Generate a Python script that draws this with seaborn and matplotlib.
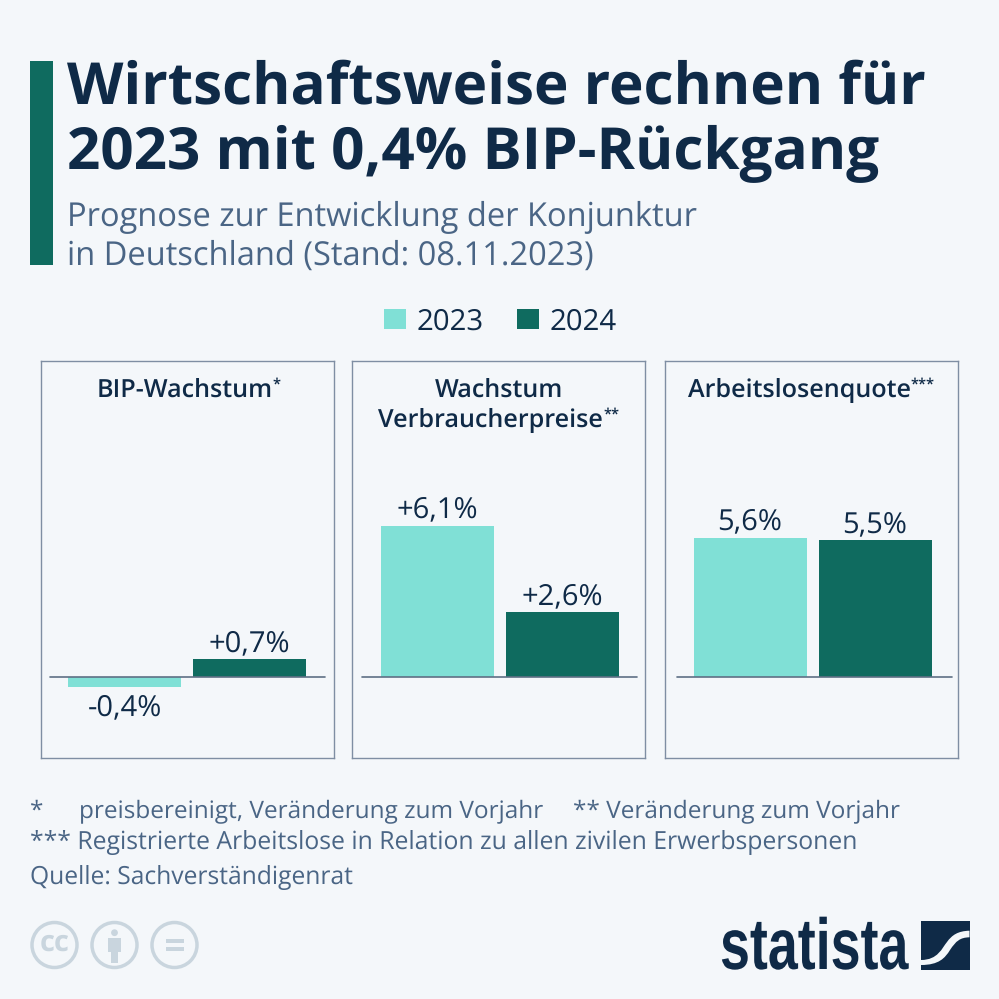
import pandas as pd
import matplotlib
matplotlib.use('Agg')
import matplotlib.pyplot as plt
import matplotlib.patheffects as pe
from matplotlib.patches import Rectangle, Circle, PathPatch
from matplotlib.path import Path
from matplotlib.transforms import Affine2D
import seaborn as sns

# data
years = ['2023', '2024']
panels = ['BIP-Wachstum', 'Wachstum\nVerbraucherpreise', 'Arbeitslosenquote']
stars = ['*', '**', '***']
bip = [-0.4, 0.7]
preise = [6.1, 2.6]
quote = [5.6, 5.5]
bip_labels = ['-0,4%', '+0,7%']
preise_labels = ['+6,1%', '+2,6%']
quote_labels = ['5,6%', '5,5%']

BG = '#f4f7fa'
NAVY = '#0f2a47'
SLATE = '#4a6585'
LIGHT = '#80e0d6'
DARK = '#0f6b5f'
FRAME = '#7f8ea3'
ICON = '#c9d5de'


# squeezes the logo text sideways, there is no condensed font here
class Squeeze(pe.AbstractPathEffect):
    def __init__(self, sx, x0):
        super().__init__()
        self.sx = sx
        self.x0 = x0

    def draw_path(self, renderer, gc, tpath, affine, rgbFace=None):
        a = affine + Affine2D().translate(-self.x0, 0).scale(self.sx, 1).translate(self.x0, 0)
        renderer.draw_path(gc, tpath, a, rgbFace)


sns.set_theme(style='white')
plt.rcParams['font.family'] = ['Open Sans', 'DejaVu Sans']
plt.rcParams['text.hinting'] = 'no_hinting'

W = 999
fig = plt.figure(figsize=(9.99, 9.99), dpi=100, facecolor=BG)

# overlay in pixel coords for text and furniture
bg = fig.add_axes([0, 0, 1, 1])
bg.set_xlim(0, W)
bg.set_ylim(W, 0)
bg.axis('off')

bg.add_patch(Rectangle((30, 61), 23, 204, color=DARK, lw=0))
bg.text(67, 103, 'Wirtschaftsweise rechnen für', fontsize=42, fontweight='bold', color=NAVY)
bg.text(67, 169, '2023 mit 0,4% BIP-Rückgang', fontsize=42, fontweight='bold', color=NAVY)
bg.text(67, 226, 'Prognose zur Entwicklung der Konjunktur', fontsize=23.5, color=SLATE)
bg.text(67, 265, 'in Deutschland (Stand: 08.11.2023)', fontsize=23.5, color=SLATE)

# legend
bg.add_patch(Rectangle((384, 309), 22, 20, color=LIGHT, lw=0))
bg.text(417, 330, years[0], fontsize=21.2, color=NAVY)
bg.add_patch(Rectangle((517, 309), 22, 20, color=DARK, lw=0))
bg.text(550, 330, years[1], fontsize=21.2, color=NAVY)

# panels
lefts = [41, 352, 665]
values = [bip, preise, quote]
labels = [bip_labels, preise_labels, quote_labels]
line_x = [(50, 325), (362, 637), (677, 952)]
bar0_x = [124.5, 437.5, 750]
head_x = [96.5, 378.5, 687.5]
ppu = 24.8
zero = 676.8
fig.canvas.draw()
rend = fig.canvas.get_renderer()
for i in range(3):
    df = pd.DataFrame({'year': years, 'value': values[i]})
    ax = fig.add_axes([lefts[i] / W, (W - 757.5) / W, 292.5 / W, 396.5 / W], facecolor='none')
    sns.barplot(data=df, x='year', y='value', hue='year', hue_order=years,
                palette=[LIGHT, DARK], saturation=1, width=0.904, linewidth=0, edgecolor='none',
                legend=False, ax=ax)
    ax.set_xlim((lefts[i] - bar0_x[i]) / 125, (lefts[i] + 292.5 - bar0_x[i]) / 125)
    ax.set_ylim((zero - 757.5) / ppu, (zero - 361) / ppu)
    ax.set_xlabel('')
    ax.set_ylabel('')
    ax.set_xticks([])
    ax.set_yticks([])
    for s in ax.spines.values():
        s.set_color(FRAME)
        s.set_linewidth(1.0)
    ax.axhline(0, (line_x[i][0] - lefts[i]) / 292.5, (line_x[i][1] - lefts[i]) / 292.5, color='#5f7085', lw=1.2)
    for c, lab, val in zip(ax.containers, labels[i], values[i]):
        ax.bar_label(c, labels=[lab], padding=1 if val > 0 else 5, fontsize=21, color=NAVY)
    head = panels[i].split('\n')
    if len(head) == 2:
        bg.text(lefts[i] + 147, 397, head[0], ha='center', fontsize=18.1, fontweight='semibold', color=NAVY)
    t = bg.text(head_x[i], 397 if len(head) == 1 else 427, head[-1], fontsize=18.1, fontweight='semibold', color=NAVY)
    end = t.get_window_extent(rend).x1
    bg.text(end, (397 if len(head) == 1 else 427) - 8, stars[i], fontsize=10.5, fontweight='semibold', color=NAVY)

# footnotes
bg.text(30, 818, '*', fontsize=17.6, color=SLATE)
bg.text(79, 818, 'preisbereinigt, Veränderung zum Vorjahr', fontsize=17.6, color=SLATE)
bg.text(573, 818, '** Veränderung zum Vorjahr', fontsize=17.6, color=SLATE)
bg.text(30, 849, '*** Registrierte Arbeitslose in Relation zu allen zivilen Erwerbspersonen', fontsize=17.8, color=SLATE)
bg.text(30, 884, 'Quelle: Sachverständigenrat', fontsize=17.7, color=SLATE)

# cc icons
for cx in [54.5, 114.5, 174.5]:
    bg.add_patch(Circle((cx, 945), 22.5, fill=False, ec=ICON, lw=2.5))
bg.text(54.5, 943, 'cc', ha='center', va='center', fontsize=21, fontweight='bold', color=ICON)
bg.add_patch(Circle((114.5, 932.7), 3.4, color=ICON, lw=0))
bg.add_patch(Rectangle((107.7, 938), 13.5, 14, color=ICON, lw=0))
bg.add_patch(Rectangle((110.7, 952), 7.6, 11, color=ICON, lw=0))
bg.add_patch(Rectangle((165.7, 939.3), 18.3, 4, color=ICON, lw=0))
bg.add_patch(Rectangle((165.7, 946.8), 18.3, 4.5, color=ICON, lw=0))

# logo
bg.text(720, 969, 'statista', fontsize=52, fontweight='bold', color=NAVY, family='Liberation Sans',
        path_effects=[Squeeze(0.745, 720)])
bg.add_patch(Rectangle((921, 921), 48.5, 48.5, color=NAVY, lw=0))
s_band = Path([(921, 960), (938, 960), (942, 948), (947, 942), (952, 935), (958, 931), (969.5, 930.7),
               (969.5, 937.3), (960, 937.5), (956, 941), (950, 950), (945, 958), (939, 965), (921, 965), (921, 960)],
              [Path.MOVETO, Path.CURVE4, Path.CURVE4, Path.CURVE4, Path.CURVE4, Path.CURVE4, Path.CURVE4,
               Path.LINETO, Path.CURVE4, Path.CURVE4, Path.CURVE4, Path.CURVE4, Path.CURVE4, Path.CURVE4, Path.CLOSEPOLY])
bg.add_patch(PathPatch(s_band, fc=BG, lw=0))

fig.savefig('out.png', dpi=100, facecolor=BG)
